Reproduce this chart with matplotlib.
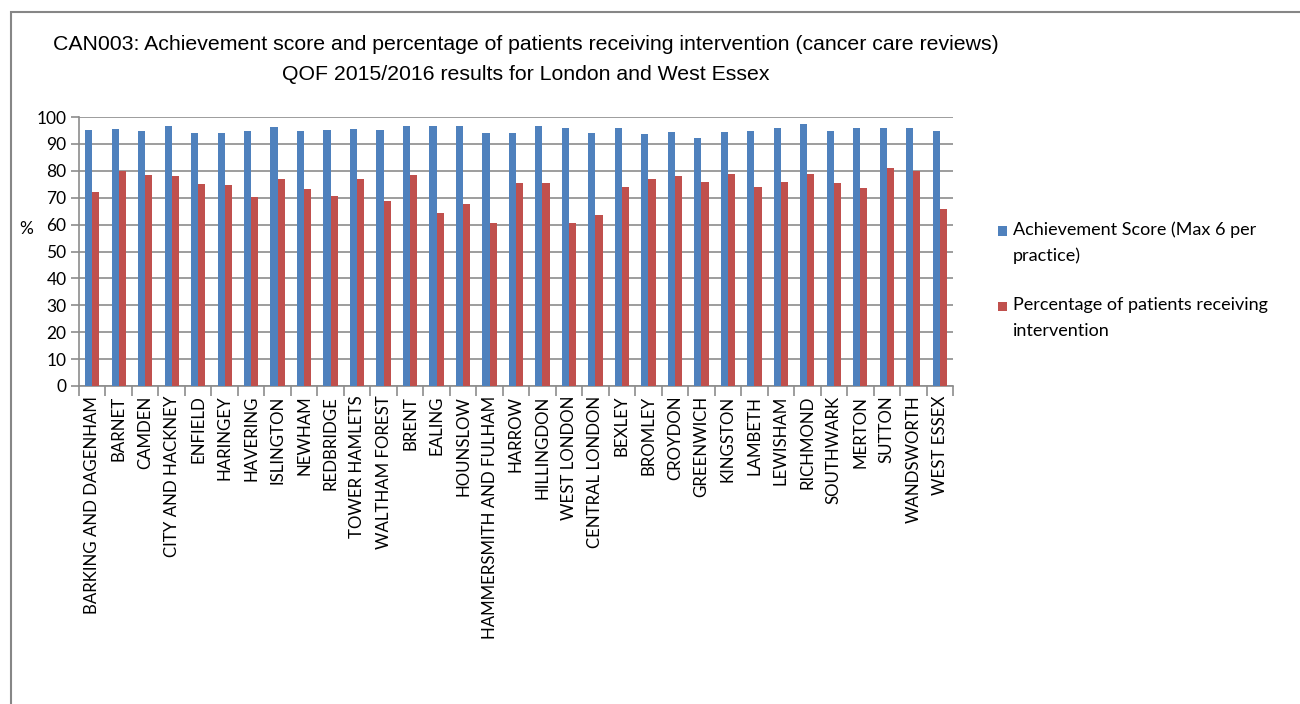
import numpy as np
import matplotlib.pyplot as plt
import matplotlib.patches as mpatches

# ── DATA ──────────────────────────────────────────────────────────────────────
areas = ["BARKING AND DAGENHAM", "BARNET", "CAMDEN", "CITY AND HACKNEY",
         "ENFIELD", "HARINGEY", "HAVERING", "ISLINGTON", "NEWHAM",
         "REDBRIDGE", "TOWER HAMLETS", "WALTHAM FOREST", "BRENT", "EALING",
         "HOUNSLOW", "HAMMERSMITH AND FULHAM", "HARROW", "HILLINGDON",
         "WEST LONDON", "CENTRAL LONDON", "BEXLEY", "BROMLEY", "CROYDON",
         "GREENWICH", "KINGSTON", "LAMBETH", "LEWISHAM", "RICHMOND",
         "SOUTHWARK", "MERTON", "SUTTON", "WANDSWORTH", "WEST ESSEX"]

achievement = [95.0, 95.4, 94.7, 96.6, 93.9, 93.9, 94.7, 96.3, 94.7, 95.0,
               95.4, 95.0, 96.6, 96.6, 96.6, 93.9, 93.9, 96.6, 95.8, 93.9,
               95.8, 93.5, 94.3, 92.3, 94.3, 94.7, 95.8, 97.4, 94.7, 95.8,
               95.8, 95.8, 94.7]

pct_intervention = [72.1, 80.0, 78.3, 77.9, 75.2, 74.7, 70.1, 77.0, 73.2, 70.5,
                    77.0, 68.9, 78.3, 64.3, 67.7, 60.7, 75.6, 75.6, 60.7, 63.5,
                    73.9, 77.0, 77.9, 75.9, 78.7, 73.9, 75.9, 78.7, 75.6, 73.6,
                    81.0, 80.0, 65.8]

series_labels = ["Achievement Score (Max 6 per\npractice)",
                 "Percentage of patients receiving\nintervention"]

y_ticks = list(range(0, 101, 10))

# ── STYLE ─────────────────────────────────────────────────────────────────────
BLUE = '#4F81BD'
RED  = '#C0504D'
GRID = '#8C8C8C'
body_font  = ['Lato', 'DejaVu Sans']
title_font = ['Liberation Sans', 'DejaVu Sans']

W, H = 1300, 704
fig = plt.figure(figsize=(13, 7.04), dpi=100)
fig.patch.set_facecolor('white')

# chart-area border (Excel style), only top/left visible in the crop
fig.add_artist(mpatches.Rectangle((11 / W, -0.01), 1.2, 1 - 12 / H + 0.01,
                                  transform=fig.transFigure, fill=False,
                                  edgecolor='#868686', linewidth=1.5))

ax = fig.add_axes([79 / W, 1 - 386 / H, (953 - 79) / W, (386 - 117) / H])

x = np.arange(len(areas))
w = 0.27
ax.bar(x - w / 2, achievement, width=w, color=BLUE, zorder=3)
ax.bar(x + w / 2, pct_intervention, width=w, color=RED, zorder=3)

ax.set_xlim(-0.5, len(areas) - 0.5)
ax.set_ylim(0, 100)
ax.set_yticks(y_ticks)
ax.yaxis.grid(True, color=GRID, linewidth=1.2, zorder=0)

ax.set_xticks(x)
ax.set_xticklabels(areas, rotation=90, fontsize=12.2, family=body_font)
ax.set_xticks(np.arange(-0.5, len(areas), 1), minor=True)
ax.tick_params(axis='x', which='major', length=0, pad=7)
ax.tick_params(axis='x', which='minor', length=7, color=GRID, width=1.2)
ax.tick_params(axis='y', length=6, color=GRID, width=1.2, labelsize=12.5, pad=3)
for lbl in ax.get_yticklabels():
    lbl.set_family(body_font)

for side in ['top', 'right']:
    ax.spines[side].set_visible(False)
for side in ['left', 'bottom']:
    ax.spines[side].set_color(GRID)
    ax.spines[side].set_linewidth(1.2)

fig.text(26 / W, 1 - 229 / H, '%', fontsize=12.5, family=body_font,
         ha='center', va='center')

# title
fig.text(526 / W, 1 - 45 / H,
         'CAN003: Achievement score and percentage of patients receiving intervention (cancer care reviews)',
         fontsize=15.3, family=title_font, ha='center', va='center')
fig.text(526 / W, 1 - 75 / H,
         'QOF 2015/2016 results for London and West Essex',
         fontsize=15.3, family=title_font, ha='center', va='center')

# legend: marker aligned with first text line, as Excel does
for i, (label, color) in enumerate(zip(series_labels, [BLUE, RED])):
    y0 = 231 + i * 76
    fig.add_artist(mpatches.Rectangle((998 / W, 1 - (y0 + 4.5) / H), 9 / W, 9 / H,
                                      transform=fig.transFigure,
                                      facecolor=color, edgecolor='none'))
    fig.text(1013 / W, 1 - (y0 - 10) / H, label, fontsize=13, family=body_font,
             ha='left', va='top', linespacing=1.75)

plt.savefig('out.png', dpi=100)
